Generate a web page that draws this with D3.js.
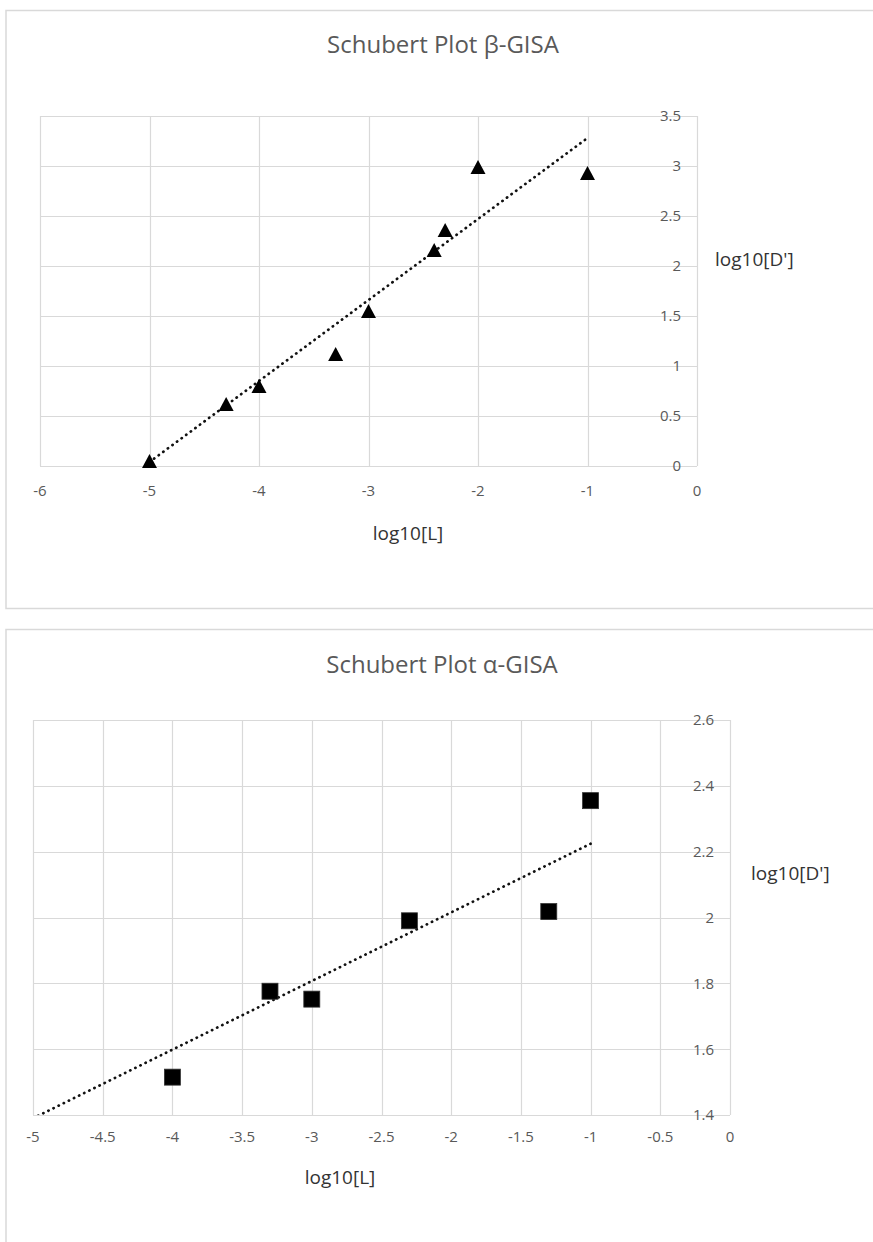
<!DOCTYPE html>
<html>
<head>
<meta charset="utf-8">
<script src="https://cdn.jsdelivr.net/npm/d3@7"></script>
<style>
  html, body { margin: 0; padding: 0; background: #fff; }
  svg { display: block; }
</style>
</head>
<body>
<svg id="chart" width="873" height="1242"></svg>
<script>
// ---------- DATA ----------
// Beta-GISA (triangles)
const betaX = [-5, -4.3, -4, -3.3, -3, -2.4, -2.3, -2, -1];
const betaY = [0.05, 0.62, 0.80, 1.12, 1.55, 2.16, 2.36, 2.99, 2.93];
const betaTrendX = [-5, -1];
const betaTrendY = [0.04, 3.28];
const betaXTicks = [-6, -5, -4, -3, -2, -1, 0];
const betaYTicks = [0, 0.5, 1, 1.5, 2, 2.5, 3, 3.5];

// Alpha-GISA (squares)
const alphaX = [-4, -3.3, -3, -2.3, -1.3, -1];
const alphaY = [1.515, 1.776, 1.752, 1.99, 2.018, 2.355];
const alphaTrendX = [-5, -1];
const alphaTrendY = [1.39, 2.224];
const alphaXTicks = [-5, -4.5, -4, -3.5, -3, -2.5, -2, -1.5, -1, -0.5, 0];
const alphaYTicks = [1.4, 1.6, 1.8, 2, 2.2, 2.4, 2.6];

const titles = ["Schubert Plot β-GISA", "Schubert Plot α-GISA"];
const xTitle = "log10[L]";
const yTitle = "log10[D']";

// ---------- DRAW ----------
const svg = d3.select("#chart");
const grid = "#d9d9d9";
const txt = "#595959";
const font = "'Open Sans', 'Noto Sans', sans-serif";
const fmt = d => String(d); // plain hyphen-minus like the original

function panel(cfg) {
  const g = svg.append("g");
  // outer frame
  g.append("rect")
    .attr("x", cfg.box[0]).attr("y", cfg.box[1])
    .attr("width", cfg.box[2]).attr("height", cfg.box[3])
    .attr("fill", "#fff").attr("stroke", grid).attr("stroke-width", 1.5);

  const x = d3.scaleLinear().domain(cfg.xDomain).range([cfg.plot.left, cfg.plot.right]);
  const y = d3.scaleLinear().domain(cfg.yDomain).range([cfg.plot.bottom, cfg.plot.top]);

  // title
  g.append("text")
    .attr("x", cfg.titlePos[0]).attr("y", cfg.titlePos[1])
    .attr("text-anchor", "middle")
    .attr("font-family", font).attr("font-weight", 400)
    .attr("font-size", 24).attr("fill", txt)
    .text(cfg.title);

  // vertical gridlines
  g.append("g").selectAll("line").data(cfg.xTicks).join("line")
    .attr("x1", d => Math.round(x(d)) + 0.5).attr("x2", d => Math.round(x(d)) + 0.5)
    .attr("y1", cfg.plot.top).attr("y2", cfg.plot.bottom)
    .attr("stroke", grid).attr("stroke-width", 1.2);
  // horizontal gridlines
  g.append("g").selectAll("line").data(cfg.yTicks).join("line")
    .attr("y1", d => Math.round(y(d)) + 0.5).attr("y2", d => Math.round(y(d)) + 0.5)
    .attr("x1", cfg.plot.left).attr("x2", cfg.plot.right)
    .attr("stroke", grid).attr("stroke-width", 1.2);

  // y tick labels (axis on right at x=0)
  g.append("g").selectAll("text").data(cfg.yTicks).join("text")
    .attr("x", cfg.plot.right - 16)
    .attr("y", d => y(d))
    .attr("dy", "0.36em")
    .attr("text-anchor", "end")
    .attr("font-family", font).attr("font-size", 15).attr("fill", txt)
    .text(fmt);

  // x tick labels
  g.append("g").selectAll("text").data(cfg.xTicks).join("text")
    .attr("x", d => x(d))
    .attr("y", cfg.plot.bottom + cfg.xLabelOffset)
    .attr("text-anchor", "middle")
    .attr("font-family", font).attr("font-size", 15).attr("fill", txt)
    .text(fmt);

  // axis titles
  g.append("text")
    .attr("x", cfg.xTitlePos[0]).attr("y", cfg.xTitlePos[1])
    .attr("text-anchor", "middle")
    .attr("font-family", font).attr("font-size", 19).attr("fill", "#333")
    .text(xTitle);
  g.append("text")
    .attr("x", cfg.yTitlePos[0]).attr("y", cfg.yTitlePos[1])
    .attr("text-anchor", "start")
    .attr("font-family", font).attr("font-size", 19).attr("fill", "#333")
    .text(yTitle);

  // clip for trendline
  const clipId = "clip" + cfg.id;
  svg.append("defs").append("clipPath").attr("id", clipId)
    .append("rect")
    .attr("x", cfg.plot.left).attr("y", cfg.plot.top)
    .attr("width", cfg.plot.right - cfg.plot.left)
    .attr("height", cfg.plot.bottom - cfg.plot.top);

  const trend = cfg.trendX.map((v, i) => [v, cfg.trendY[i]]);
  g.append("path")
    .datum(trend)
    .attr("clip-path", `url(#${clipId})`)
    .attr("d", d3.line().x(d => x(d[0])).y(d => y(d[1])))
    .attr("fill", "none").attr("stroke", "#111")
    .attr("stroke-width", 2.7)
    .attr("stroke-linecap", "round")
    .attr("stroke-dasharray", "0.3,5.4");

  // markers
  const pts = cfg.xs.map((v, i) => [v, cfg.ys[i]]);
  if (cfg.marker === "triangle") {
    const w = 15, h = 14;
    g.append("g").selectAll("path").data(pts).join("path")
      .attr("d", d => {
        const cx = x(d[0]), cy = y(d[1]);
        return `M${cx},${cy - h / 2}L${cx + w / 2},${cy + h / 2}L${cx - w / 2},${cy + h / 2}Z`;
      })
      .attr("fill", "#000");
  } else {
    const s = 16;
    g.append("g").selectAll("rect").data(pts).join("rect")
      .attr("x", d => x(d[0]) - s / 2).attr("y", d => y(d[1]) - s / 2)
      .attr("width", s).attr("height", s)
      .attr("fill", "#000").attr("stroke", "#333").attr("stroke-width", 0.8);
  }
}

panel({
  id: "b",
  box: [6, 10.5, 900, 598],
  plot: { left: 40, right: 697, top: 116, bottom: 466 },
  xDomain: [-6, 0], yDomain: [0, 3.5],
  xTicks: betaXTicks, yTicks: betaYTicks,
  xs: betaX, ys: betaY, trendX: betaTrendX, trendY: betaTrendY,
  marker: "triangle",
  xLabelOffset: 30,
  title: titles[0], titlePos: [443, 53],
  xTitlePos: [408, 540], yTitlePos: [715, 266]
});

panel({
  id: "a",
  box: [6, 629.5, 900, 640],
  plot: { left: 33, right: 730, top: 720, bottom: 1115 },
  xDomain: [-5, 0], yDomain: [1.4, 2.6],
  xTicks: alphaXTicks, yTicks: alphaYTicks,
  xs: alphaX, ys: alphaY, trendX: alphaTrendX, trendY: alphaTrendY,
  marker: "square",
  xLabelOffset: 27,
  title: titles[1], titlePos: [442, 673],
  xTitlePos: [340, 1184], yTitlePos: [751, 880]
});
</script>
</body>
</html>
